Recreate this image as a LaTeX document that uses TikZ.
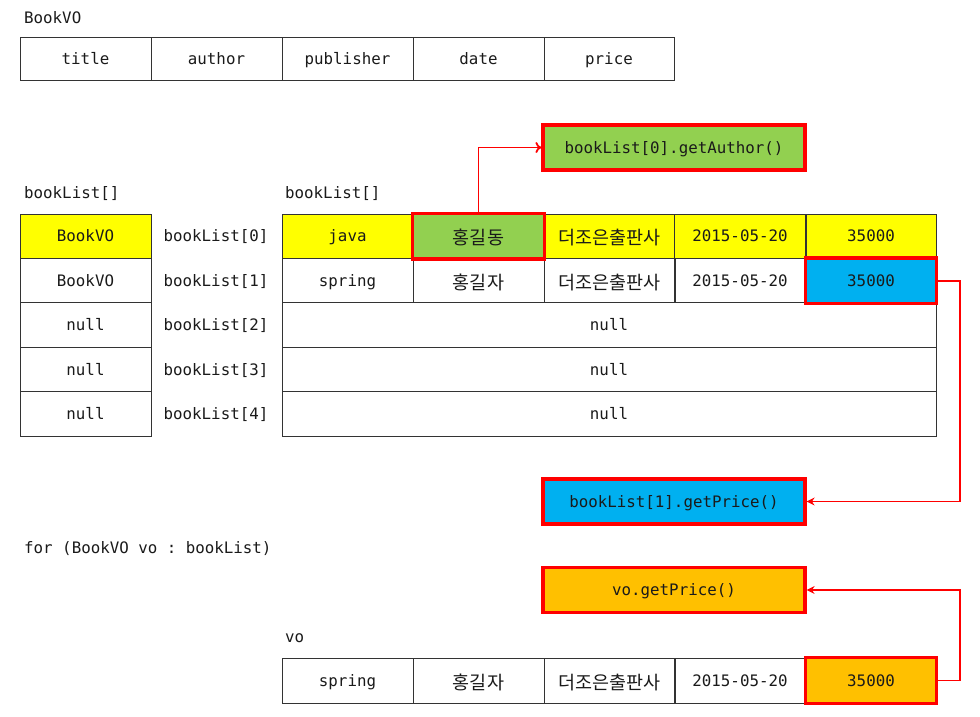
\documentclass[tikz,border=0pt]{standalone}
\usepackage{fontspec}
\setmonofont{DejaVu Sans Mono}
\newfontfamily\krfont{Noto Sans CJK KR}
\usetikzlibrary{arrows.meta}
\definecolor{hlyellow}{HTML}{FFFF00}
\definecolor{hlgreen}{HTML}{92D050}
\definecolor{hlblue}{HTML}{00B0F0}
\definecolor{hlorange}{HTML}{FFC000}
\definecolor{hlred}{HTML}{FF0000}
\definecolor{txt}{HTML}{1A1A1A}
\definecolor{gridline}{HTML}{333333}
\newcommand{\kr}[1]{\raisebox{-3pt}{\krfont\fontsize{18.5}{20}\selectfont #1}}
\begin{document}
\begin{tikzpicture}[x=1pt,y=-1pt,
  every node/.style={text=txt},
  mono/.style={font=\ttfamily\fontsize{15.8}{18}\selectfont},
  tx/.style={text height=13.5pt,text depth=2pt},
  cell/.style={draw=gridline,line width=1pt,minimum width=131pt,minimum height=44.4pt,inner sep=0pt,anchor=center,mono,tx},
  wide/.style={cell,minimum width=654pt},
  hot/.style={draw=hlred,line width=3.2pt},
  callbox/.style={draw=hlred,line width=3.2pt,minimum width=262pt,minimum height=45pt,inner sep=0pt,mono,tx},
  lbl/.style={anchor=west,inner sep=0pt,mono,tx},
  idx/.style={anchor=center,inner sep=0pt,mono,tx},
  openarrow/.style={draw=hlred,line width=1.8pt,-{To[length=6pt,width=11pt]}},
  solidarrow/.style={draw=hlred,line width=1.8pt,-{Stealth[length=8pt,width=8pt]}}
]
\useasboundingbox (0,0) rectangle (980,716);
\fill[white] (0,0) rectangle (980,716);

% BookVO class table
\node[lbl] (lBookVO) at (24,18) {BookVO};
\node[cell,minimum height=43pt] (h1) at (85.5,58.5) {title};
\node[cell,minimum height=43pt] (h2) at (216.5,58.5) {author};
\node[cell,minimum height=43pt] (h3) at (347.5,58.5) {publisher};
\node[cell,minimum height=43pt] (h4) at (478.5,58.5) {date};
\node[cell,minimum width=130pt,minimum height=43pt] (h5) at (609,58.5) {price};

% labels
\node[lbl] (lArrL) at (24,193) {bookList[]};
\node[lbl] (lArrR) at (285,193) {bookList[]};

% left array
\node[cell,fill=hlyellow] (a0) at (85.5,236.2) {BookVO};
\node[cell] (a1) at (85.5,280.6) {BookVO};
\node[cell] (a2) at (85.5,325.0) {null};
\node[cell] (a3) at (85.5,369.4) {null};
\node[cell] (a4) at (85.5,413.8) {null};

\node[idx] (i0) at (216,236.2) {bookList[0]};
\node[idx] (i1) at (216,280.6) {bookList[1]};
\node[idx] (i2) at (216,325.0) {bookList[2]};
\node[idx] (i3) at (216,369.4) {bookList[3]};
\node[idx] (i4) at (216,413.8) {bookList[4]};

% right objects
\node[cell,fill=hlyellow] (c00) at (347.5,236.2) {java};
\node[cell,fill=hlgreen] (c01) at (478.5,236.2) {\kr{홍길동}};
\node[cell,fill=hlyellow] (c02) at (609.5,236.2) {\kr{더조은출판사}};
\node[cell,fill=hlyellow] (c03) at (740,236.2) {2015-05-20};
\node[cell,fill=hlyellow,minimum width=130pt] (c04) at (871,236.2) {35000};

\node[cell] (c10) at (347.5,280.6) {spring};
\node[cell] (c11) at (478.5,280.6) {\kr{홍길자}};
\node[cell] (c12) at (609.5,280.6) {\kr{더조은출판사}};
\node[cell] (c13) at (740,280.6) {2015-05-20};
\node[cell,fill=hlblue,minimum width=130pt] (c14) at (871,280.6) {35000};

\node[wide] (n2) at (609,325.0) {null};
\node[wide] (n3) at (609,369.4) {null};
\node[wide] (n4) at (609,413.8) {null};

% call boxes
\node[callbox,fill=hlgreen] (gA) at (674,147.5) {bookList[0].getAuthor()};
\node[callbox,fill=hlblue] (gP) at (674,501.5) {bookList[1].getPrice()};
\node[callbox,fill=hlorange] (vP) at (674,590) {vo.getPrice()};

% for loop
\node[lbl] (lFor) at (24,548) {for (BookVO vo : bookList)};
\node[lbl] (lVo) at (285,637) {vo};

\node[cell,minimum height=45pt] (v0) at (347.5,680.5) {spring};
\node[cell,minimum height=45pt] (v1) at (478.5,680.5) {\kr{홍길자}};
\node[cell,minimum height=45pt] (v2) at (609.5,680.5) {\kr{더조은출판사}};
\node[cell,minimum height=45pt] (v3) at (740,680.5) {2015-05-20};
\node[cell,fill=hlorange,minimum width=130pt,minimum height=45pt] (v4) at (871,680.5) {35000};

% red highlight frames on top
\draw[hot] (c01.north west) rectangle (c01.south east);
\draw[hot] (c14.north west) rectangle (c14.south east);
\draw[hot] (v4.north west) rectangle (v4.south east);

% connectors
\coordinate (k1) at (960,0);
\draw[openarrow] (c01.north) |- (gA.west);
\draw[solidarrow] (c14.east) -- (c14.east -| k1) |- (gP.east);
\draw[solidarrow] (v4.east) -- (v4.east -| k1) |- (vP.east);
\end{tikzpicture}
\end{document}
